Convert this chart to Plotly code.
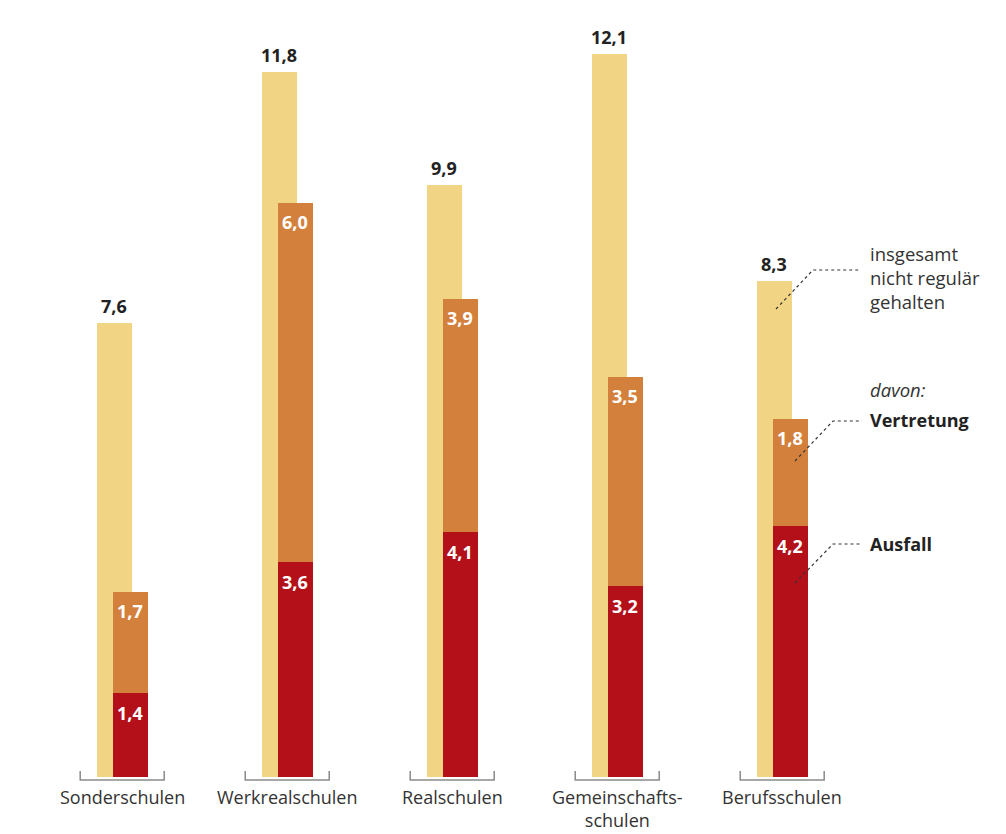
import plotly.graph_objects as go

categories = ["Sonderschulen", "Werkrealschulen", "Realschulen", "Gemeinschafts-<br>schulen", "Berufsschulen"]
total = [7.6, 11.8, 9.9, 12.1, 8.3]
ausfall = [1.4, 3.6, 4.1, 3.2, 4.2]
vertretung = [1.7, 6.0, 3.9, 3.5, 1.8]

def fmt(v):
    return f"{v:.1f}".replace(".", ",")

YELLOW = "#F2D485"
ORANGE = "#D4803D"
RED = "#B4101A"
DARK = "#222222"
GRAY = "#333333"

PAGE_OFF = 8  # default body margin of the html page
W, H = 1006 - PAGE_OFF, 834 - PAGE_OFF
PX_PER_UNIT = 59.75
BASE_PX = 777
SPACING = 165.0
X0_PX = 122.2
PLOT_BOTTOM_PX = 800

ymax = (BASE_PX - PAGE_OFF) / PX_PER_UNIT
ymin = -(PLOT_BOTTOM_PX - BASE_PX) / PX_PER_UNIT
xmin = -(X0_PX - PAGE_OFF) / SPACING
xmax = xmin + W / SPACING

def px2x(px):
    return xmin + (px - PAGE_OFF) / SPACING

def px2y(py):
    return (BASE_PX - py) / PX_PER_UNIT

idx = list(range(len(categories)))
bw = 35 / SPACING
off = 8 / SPACING
xy = [i - off for i in idx]
xs = [i + off for i in idx]

fig = go.Figure()
fig.add_trace(go.Bar(x=xy, y=total, width=bw, marker=dict(color=YELLOW, line=dict(width=0)), hoverinfo="skip"))
fig.add_trace(go.Bar(x=xs, y=ausfall, width=bw, marker=dict(color=RED, line=dict(width=0)), hoverinfo="skip"))
fig.add_trace(go.Bar(x=xs, y=vertretung, base=ausfall, width=bw, marker=dict(color=ORANGE, line=dict(width=0)), hoverinfo="skip"))

ann = []
shapes = []
for i in idx:
    ann.append(dict(x=xy[i], y=total[i], text=f"<b>{fmt(total[i])}</b>", showarrow=False,
                    yanchor="middle", yshift=17, font=dict(size=18, color=DARK)))
    ann.append(dict(x=xs[i], y=ausfall[i], text=f"<b>{fmt(ausfall[i])}</b>", showarrow=False,
                    yanchor="middle", yshift=-20, font=dict(size=18, color="white")))
    ann.append(dict(x=xs[i], y=ausfall[i] + vertretung[i], text=f"<b>{fmt(vertretung[i])}</b>", showarrow=False,
                    yanchor="middle", yshift=-19, font=dict(size=18, color="white")))
    ann.append(dict(x=i, y=0, text=categories[i], showarrow=False, yanchor="top", yshift=-6,
                    font=dict(size=18, color=GRAY)))
    half = 42 / SPACING
    yb = px2y(780)
    yt = px2y(771)
    shapes.append(dict(type="path", xref="x", yref="y",
                       path=f"M {i-half},{yt} L {i-half},{yb} L {i+half},{yb} L {i+half},{yt}",
                       line=dict(color="#8a8a8a", width=1.5)))

ann.append(dict(x=px2x(868), y=px2y(277), xanchor="left", yanchor="middle", showarrow=False, align="left",
                text="insgesamt<br>nicht regulär<br>gehalten", font=dict(size=18.5, color=GRAY)))
ann.append(dict(x=px2x(868), y=px2y(389), xanchor="left", yanchor="middle", showarrow=False,
                text="<i>davon:</i>", font=dict(size=18.5, color=GRAY)))
ann.append(dict(x=px2x(868), y=px2y(420), xanchor="left", yanchor="middle", showarrow=False,
                text="<b>Vertretung</b>", font=dict(size=18, color=DARK)))
ann.append(dict(x=px2x(868), y=px2y(544), xanchor="left", yanchor="middle", showarrow=False,
                text="<b>Ausfall</b>", font=dict(size=18, color=DARK)))

for pts in [[(776, 309), (813, 270), (861, 270)],
            [(795, 461), (833, 421), (862, 421)],
            [(795, 583), (833, 544), (862, 544)]]:
    path = "M " + " L ".join(f"{px2x(a)},{px2y(b)}" for a, b in pts)
    shapes.append(dict(type="path", xref="x", yref="y", path=path,
                       line=dict(color="#333333", width=1.2, dash="dot")))

fig.update_layout(
    width=W, height=H,
    margin=dict(l=0, r=0, t=0, b=H - (PLOT_BOTTOM_PX - PAGE_OFF), pad=0),
    paper_bgcolor="white", plot_bgcolor="white",
    barmode="overlay", bargap=0,
    showlegend=False,
    font=dict(family="Open Sans, Lato, sans-serif"),
    xaxis=dict(range=[xmin, xmax], visible=False, fixedrange=True),
    yaxis=dict(range=[ymin, ymax], visible=False, fixedrange=True),
    annotations=ann, shapes=shapes,
)
fig.write_html("out.html", config={"displayModeBar": False})
